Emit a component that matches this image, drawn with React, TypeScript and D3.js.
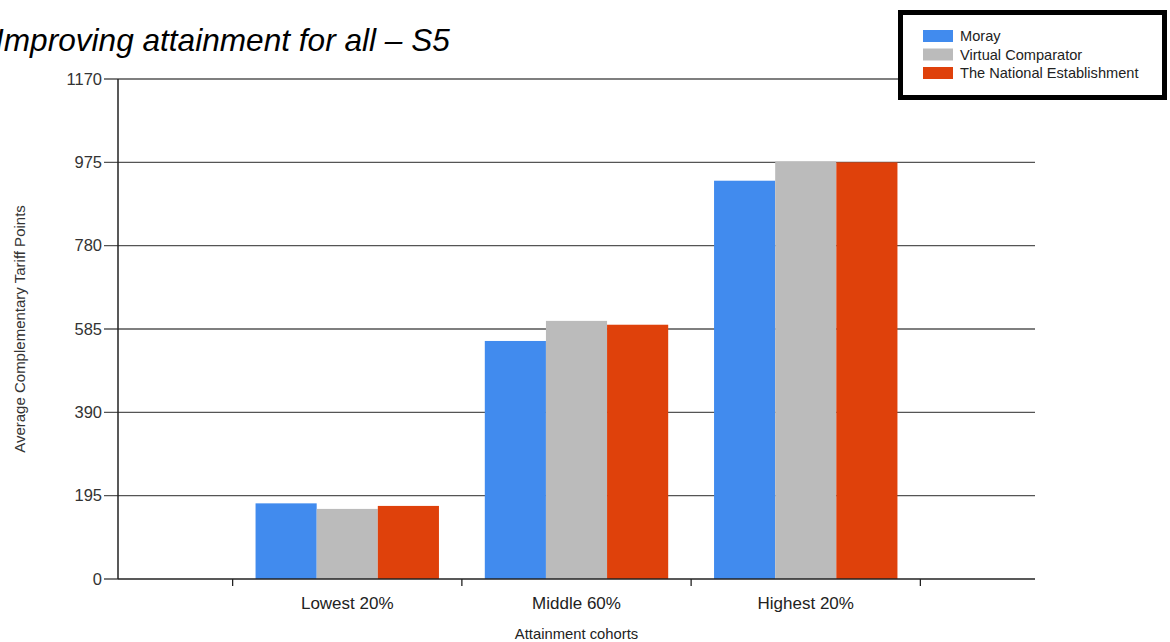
import React from "react";
import * as d3 from "d3";

const categories = ["Lowest 20%", "Middle 60%", "Highest 20%"];
const seriesNames = ["Moray", "Virtual Comparator", "The National Establishment"];
const moray = [177, 557, 932];
const virtualComparator = [164, 604, 977];
const nationalEstablishment = [171, 595, 975];
const yTicks = [0, 195, 390, 585, 780, 975, 1170];
const colors = ["#418BEE", "#BBBBBB", "#DF410B"];

const W = 1170;
const H = 642;
const plot = { left: 118, right: 1035, top: 79, bottom: 579 };

export default function App() {
  const series = [moray, virtualComparator, nationalEstablishment];
  // Linear category axis: categories sit at 1..3, tick marks at the half-steps between them.
  const x = d3.scaleLinear().domain([0, 4]).range([plot.left, plot.right]);
  const y = d3.scaleLinear().domain([0, 1170]).range([plot.bottom, plot.top]);
  const groupW = (x(1) - x(0)) * 0.8;
  const inner = d3
    .scaleBand<number>()
    .domain(d3.range(series.length))
    .range([-groupW / 2, groupW / 2])
    .padding(0);
  const xTicks = [0.5, 1.5, 2.5, 3.5];
  const font = "'Liberation Sans', Arial, sans-serif";

  return (
    <div style={{ position: "absolute", left: 0, top: 0 }}>
      <svg width={W} height={H} style={{ display: "block", background: "#fff" }} fontFamily={font}>
        <text x={-5} y={51} fontSize={31.6} fontStyle="italic" fill="#000">
          Improving attainment for all – S5
        </text>

        {/* gridlines and y ticks */}
        {yTicks.map((t) => (
          <g key={t}>
            {t > 0 && (
              <line x1={plot.left - 14} x2={plot.right} y1={y(t)} y2={y(t)} stroke="#555" strokeWidth={1.3} />
            )}
            {t === 0 && (
              <line x1={plot.left - 14} x2={plot.left} y1={y(t)} y2={y(t)} stroke="#333" strokeWidth={1.3} />
            )}
            <text x={plot.left - 16} y={y(t)} dy="0.35em" textAnchor="end" fontSize={16.5} fill="#333">
              {t}
            </text>
          </g>
        ))}

        {/* bars */}
        {series.map((vals, si) =>
          vals.map((v, ci) => (
            <rect
              key={`${si}-${ci}`}
              x={x(ci + 1) + (inner(si) as number)}
              width={inner.bandwidth()}
              y={y(v)}
              height={y(0) - y(v)}
              fill={colors[si]}
            />
          ))
        )}

        {/* axes */}
        <line x1={plot.left} x2={plot.left} y1={plot.top} y2={plot.bottom} stroke="#222" strokeWidth={1.5} />
        <line x1={plot.left} x2={plot.right} y1={plot.bottom} y2={plot.bottom} stroke="#222" strokeWidth={1.5} />
        {xTicks.map((t) => (
          <line key={t} x1={x(t)} x2={x(t)} y1={plot.bottom} y2={plot.bottom + 7} stroke="#222" strokeWidth={1.3} />
        ))}
        {categories.map((c, i) => (
          <text key={c} x={x(i + 1)} y={609} textAnchor="middle" fontSize={17} fill="#222">
            {c}
          </text>
        ))}
        <text x={x(2)} y={639} textAnchor="middle" fontSize={14.8} fill="#222">
          Attainment cohorts
        </text>
        <text
          transform={`translate(25, ${(plot.top + plot.bottom) / 2}) rotate(-90)`}
          textAnchor="middle"
          fontSize={15}
          fill="#333"
        >
          Average Complementary Tariff Points
        </text>

        {/* legend */}
        <rect x={900.5} y={12.5} width={264} height={85} fill="#fff" stroke="#000" strokeWidth={5} />
        {seriesNames.map((n, i) => (
          <g key={n} transform={`translate(923, ${30 + i * 18.5})`}>
            <rect width={30} height={12} fill={colors[i]} />
            <text x={37} y={6} dy="0.35em" fontSize={14.6} fill="#222">
              {n}
            </text>
          </g>
        ))}
      </svg>
    </div>
  );
}
